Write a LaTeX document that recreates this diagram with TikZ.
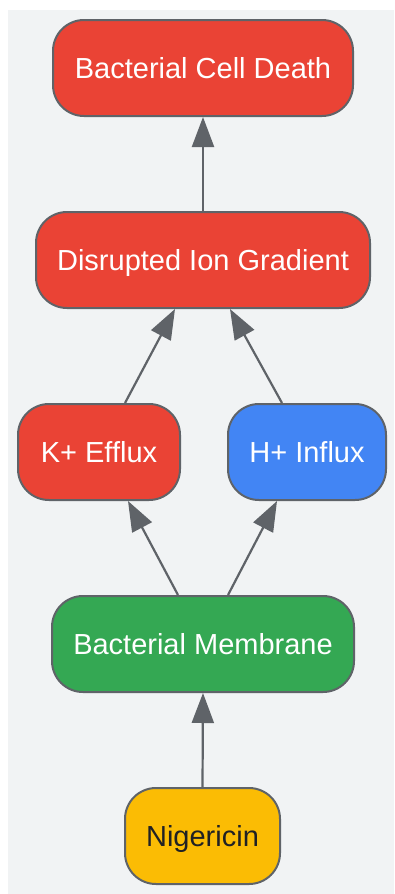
\documentclass[tikz,border=0pt]{standalone}
\usepackage{fontspec}
\setmainfont{Liberation Sans}
\usetikzlibrary{arrows.meta,calc}
\definecolor{bgc}{HTML}{F1F3F4}
\definecolor{edge}{HTML}{5F6368}
\definecolor{gred}{HTML}{EA4335}
\definecolor{gblue}{HTML}{4285F4}
\definecolor{ggreen}{HTML}{34A853}
\definecolor{gyellow}{HTML}{FBBC04}
\definecolor{dtext}{HTML}{202124}
\tikzset{
  box/.style={draw=edge, line width=2pt, rounded corners=31pt, minimum height=96pt,
    inner sep=0pt, text height=22pt, text depth=2pt, font=\fontsize{29}{34}\selectfont, text=white},
  arr/.style={draw=edge, line width=2.2pt, -{Triangle[length=30pt,width=22pt]}},
}
\begin{document}
\begin{tikzpicture}[x=1pt,y=-1pt]
\useasboundingbox (0,0) rectangle (394,894);
\fill[bgc] (8,10) rectangle (394,894);
\node[box, fill=gred, minimum width=300pt] (death) at (203,68) {Bacterial Cell Death};
\node[box, fill=gred, minimum width=334pt] (grad) at (203,260) {Disrupted Ion Gradient};
\node[box, fill=gred, minimum width=162pt] (kef) at (99,452) {K+ Efflux};
\node[box, fill=gblue, minimum width=158pt] (hin) at (307,452) {H+ Influx};
\node[box, fill=ggreen, minimum width=302pt] (mem) at (203,644) {Bacterial Membrane};
\node[box, fill=gyellow, minimum width=155pt, text=dtext] (nig) at (202.5,836) {Nigericin};
\draw[arr] (nig.north) -- (mem.south);
\draw[arr] ($(mem.north)+(-25,0)$) -- ($(kef.south)+(29,0)$);
\draw[arr] ($(mem.north)+(25,0)$) -- ($(hin.south)+(-30,0)$);
\draw[arr] ($(kef.north)+(26,0)$) -- ($(grad.south)+(-28,0)$);
\draw[arr] ($(hin.north)+(-25,0)$) -- ($(grad.south)+(27,0)$);
\draw[arr] (grad.north) -- (death.south);
\end{tikzpicture}
\end{document}
